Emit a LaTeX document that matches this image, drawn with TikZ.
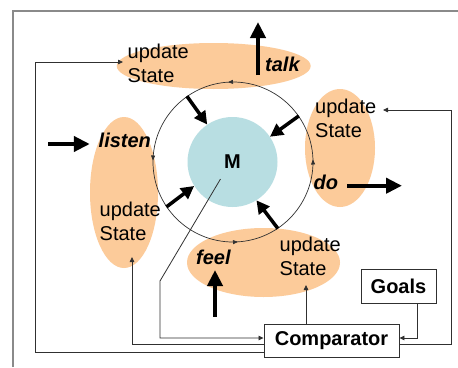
\documentclass[tikz,border=0pt]{standalone}
\usepackage{fontspec}
\setmainfont{Liberation Sans}
\usetikzlibrary{arrows.meta,shapes.geometric,decorations.markings,calc}
\definecolor{blob}{HTML}{FCCB9A}
\definecolor{mblue}{HTML}{B8DEE2}
\definecolor{framegray}{HTML}{8A8A8A}
\definecolor{wire}{HTML}{303030}
\begin{document}
\begin{tikzpicture}[x=1pt,y=-1pt,
  blobshape/.style={ellipse, fill=blob, draw=none, inner sep=0pt},
  lbl/.style={inner sep=0pt, anchor=base west, font=\fontsize{20}{24.5}\selectfont},
  act/.style={inner sep=0pt, anchor=base west, font=\fontsize{20}{24.5}\selectfont\bfseries\itshape},
  bigarrow/.style={line width=4pt, -{Triangle[length=16pt,width=15pt]}},
  inarrow/.style={line width=3.5pt, -{Triangle[length=13pt,width=13pt]}},
  wireline/.style={draw=wire, line width=0.8pt},
  wirearrow/.style={wireline, -{Triangle[length=5pt,width=4.5pt]}},
  box/.style={draw=wire, line width=0.9pt, fill=white, inner sep=0pt, font=\fontsize{20}{24}\selectfont\bfseries},
  ringmark/.style={postaction={decorate}, decoration={markings,
    mark=at position 0.005 with {\arrow[wire]{Triangle[length=5pt,width=4pt]}},
    mark=at position 0.26 with {\arrow[wire]{Triangle[length=5pt,width=4pt]}},
    mark=at position 0.497 with {\arrow[wire]{Triangle[length=5pt,width=4pt]}},
    mark=at position 0.76 with {\arrow[wire]{Triangle[length=5pt,width=4pt]}}}},
]
\useasboundingbox (0,0) rectangle (458,367);
\fill[white] (0,0) rectangle (458,367);
% frame
\draw[framegray, line width=1.3pt] (13,367) -- (13,11) -- (458,11);

% orange regions
\node[blobshape, minimum width=194pt, minimum height=46pt] (topb) at (213.7,66) {};
\node[blobshape, minimum width=70pt, minimum height=118pt] (rightb) at (340,148) {};
\node[blobshape, minimum width=68pt, minimum height=151pt] (leftb) at (124,192.5) {};
\node[blobshape, minimum width=153pt, minimum height=69pt] (botb) at (263.5,262.5) {};

% ring and M
\node[circle, draw=wire, line width=0.7pt, minimum size=160pt, inner sep=0pt, ringmark] (ring) at (233,162) {};
\node[circle, fill=mblue, minimum size=90pt, inner sep=0pt, font=\fontsize{20}{24}\selectfont\bfseries] (M) at (232.5,162) {M};

% texts
\node[lbl] (topst) at (127.5,58.3) {\begin{tabular}[t]{@{}l@{}}update\\State\end{tabular}};
\node[lbl] (rightst) at (315,113) {\begin{tabular}[t]{@{}l@{}}update\\State\end{tabular}};
\node[lbl] (leftst) at (99.5,216) {\begin{tabular}[t]{@{}l@{}}update\\State\end{tabular}};
\node[lbl] (botst) at (279.5,251) {\begin{tabular}[t]{@{}l@{}}update\\State\end{tabular}};
\node[act] (talk) at (265,71.7) {talk};
\node[act] (do) at (313.5,189) {do};
\node[act] (listen) at (98.5,147.7) {listen};
\node[act] (feel) at (196,264.3) {feel};

% boxes
\node[box, minimum width=135pt, minimum height=33pt] (comp) at (331.5,340.5) {Comparator};
\node[box, minimum width=75pt, minimum height=34pt] (goals) at (398.5,286) {Goals};

% thick arrows into M
\draw[inarrow] (ring.125) -- (M.124);
\draw[inarrow] (ring.35) -- (M.34);
\draw[inarrow] (ring.214) -- (M.212);
\draw[inarrow] (ring.304) -- (M.302);

% action arrows
\coordinate (talkfoot) at (258,75);
\coordinate (talkout) at (258,22);
\coordinate (listenin) at (48,144);
\coordinate (dofoot) at (347,185.7);
\coordinate (doout) at (402,185.7);
\coordinate (feelin) at (215,316.7);
\coordinate (feeltip) at (215,270);
\draw[bigarrow] (talkfoot) -- (talkout);
\draw[bigarrow] (listenin) -- (leftb.west |- listenin);
\draw[bigarrow] (dofoot) -- (doout);
\draw[bigarrow] (feelin) -- (feeltip);

% wires
\coordinate (mfoot) at ($(M.center)+(-12,17)$);
\coordinate (leftin) at (132,257);
\coordinate (topin) at (123,62);
\coordinate (botin) at (306,285);
\coordinate (rightin) at (383,110);
\draw[wirearrow] (mfoot) -- (160,281) |- ([yshift=2.5pt]comp.west);
\draw[wirearrow] ([yshift=-4pt]comp.west) -| (leftin);
\draw[wirearrow] ([yshift=-11.5pt]comp.west) -| (35,62) -- (topin);
\draw[wirearrow] ([xshift=-25.5pt]comp.north) -- (botin);
\draw[wirearrow] ([xshift=18.5pt]goals.south) |- ([yshift=2.5pt]comp.east);
\draw[wirearrow] ([yshift=-3.5pt]comp.east) -| (451,110) -- (rightin);
\end{tikzpicture}
\end{document}
